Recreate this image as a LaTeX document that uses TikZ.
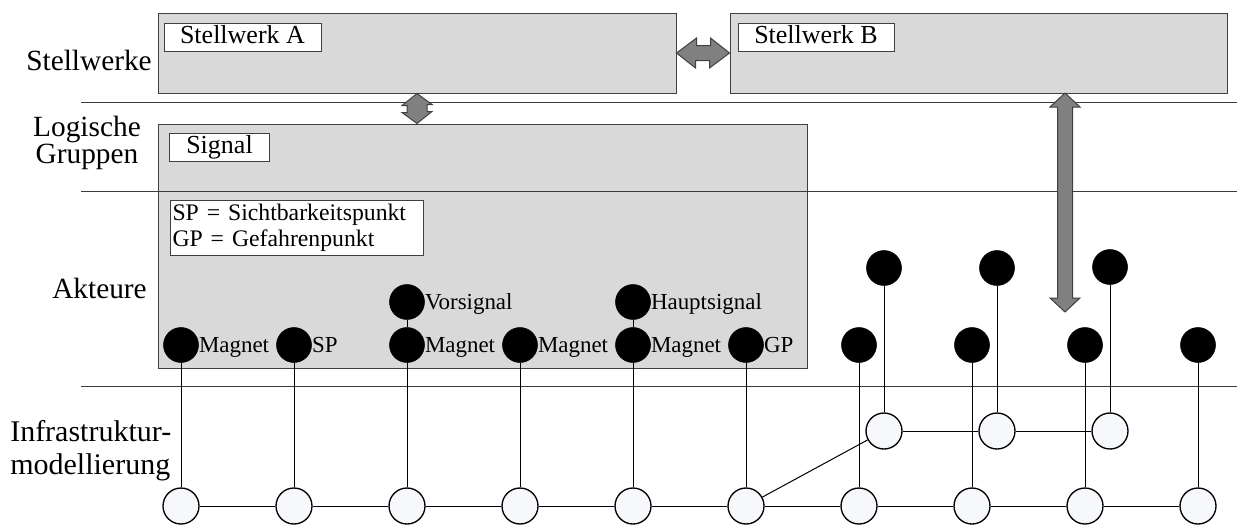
\documentclass[tikz,border=0pt]{standalone}
\usepackage{fontspec}
\setmainfont{Liberation Serif}
\usetikzlibrary{calc}
\definecolor{boxc}{HTML}{D9D9D9}
\definecolor{edgec}{HTML}{404040}
\definecolor{arrc}{HTML}{808080}
\definecolor{sepc}{HTML}{3A3A3A}
\definecolor{infc}{HTML}{F7F8FC}
\newdimen\pxd \pxd=0.75pt
\newcommand\layfont{\fontsize{22}{20}\selectfont}
\newcommand\tagfont{\fontsize{19.5}{22}\selectfont}
\newcommand\smallfont{\fontsize{17.2}{18.75}\selectfont}
\newcommand\legfont{\fontsize{17.8}{19.5}\selectfont}
\begin{document}
\begin{tikzpicture}[x=0.75pt,y=-0.75pt,
  box/.style={draw=edgec, fill=boxc, line width=0.75pt, inner sep=0pt},
  tag/.style={draw=edgec, fill=white, line width=0.75pt, inner sep=0pt, font=\tagfont, text height=14pt, text depth=3.7pt},
  legend/.style={draw=edgec, fill=white, line width=0.75pt, inner xsep=2\pxd, inner ysep=0pt, font=\legfont, align=left},
  lay/.style={inner sep=0pt, font=\layfont},
  act/.style={circle, draw=black, fill=black, minimum size=35\pxd, inner sep=0pt},
  infra/.style={circle, draw=black, fill=infc, line width=1pt, minimum size=36\pxd, inner sep=0pt},
  albl/.style={anchor=west, font=\smallfont, inner sep=0pt, text height=11.4pt, text depth=0pt},
  sep/.style={draw=sepc, line width=0.75pt},
  wire/.style={draw=black, line width=0.75pt},
  fatarrow/.style={draw=edgec, fill=arrc, line width=0.75pt, line join=miter}
]
\useasboundingbox (0,0) rectangle (1245,525);

% layer boxes
\node[box, minimum width=518\pxd, minimum height=80\pxd] (SA) at (417,53) {};
\node[box, minimum width=497\pxd, minimum height=80\pxd] (SB) at (978.5,53) {};
\node[box, minimum width=649\pxd, minimum height=244\pxd] (SG) at (482.5,246) {};

% box tags
\node[tag, minimum width=157\pxd, minimum height=28\pxd] (tA) at (242.5,37) {Stellwerk A};
\node[tag, minimum width=156\pxd, minimum height=28\pxd] (tB) at (816,37) {Stellwerk B};
\node[tag, minimum width=100\pxd, minimum height=28\pxd] (tS) at (219.5,147) {Signal};
\node[legend, anchor=north west, text width=249\pxd, minimum height=55\pxd] (lg) at (170,200) {SP = Sichtbarkeitspunkt\\GP = Gefahrenpunkt};

% layer labels
\node[lay, anchor=base east] (L1) at (152,70) {Stellwerke};
\node[lay, anchor=base, align=center] (L2) at (87,163) {Logische\\Gruppen};
\node[lay, anchor=base east] (L3) at (147,298) {Akteure};
\node[lay, anchor=base west, align=left, font=\fontsize{22.5}{24.75}\selectfont] (L4) at (10,474) {Infrastruktur-\\modellierung};

% separators
\coordinate (s1a) at (81,102); \coordinate (s1b) at (1237,102);
\coordinate (s2a) at (81,191); \coordinate (s2b) at (1237,191);
\coordinate (s3a) at (81,386); \coordinate (s3b) at (1237,386);
\draw[sep] (s1a) -- (s1b);
\draw[sep] (s2a) -- (s2b);
\draw[sep] (s3a) -- (s3b);

% fat arrows
\filldraw[fatarrow] (SA.east) -- ++(20,-15) -- ++(0,7.5) -- ++(14,0) -- ++(0,-7.5) -- (SB.west)
  -- ++(-20,15) -- ++(0,-7.5) -- ++(-14,0) -- ++(0,7.5) -- cycle;
\coordinate (aS) at (SA.south |- SG.north);
\filldraw[fatarrow] (SA.south) -- ++(-15,12) -- ++(5,0) -- ++(0,7) -- ++(-5,0) -- (aS)
  -- ++(15,-12) -- ++(-5,0) -- ++(0,-7) -- ++(5,0) -- cycle;
\coordinate (bTop) at (1065,93);
\coordinate (bEnd) at (1065,312);
\filldraw[fatarrow] (bTop) -- ++(-15,14) -- ++(7.5,0) -- ++(0,191) -- ++(-7.5,0) -- (bEnd)
  -- ++(15,-14) -- ++(-7.5,0) -- ++(0,-191) -- ++(7.5,0) -- cycle;

% actors and infrastructure nodes
\foreach \i in {0,...,9} {
  \node[act] (b\i) at ({181+113*\i},345) {};
  \node[infra] (w\i) at ({181+113*\i},506) {};
}
\node[act] (v) at (407,302) {};
\node[act] (h) at (633,302) {};
\node[act] (t0) at (884,268) {};
\node[act] (t1) at (997,268) {};
\node[act] (t2) at (1110,267) {};
\node[infra] (u0) at (884,431) {};
\node[infra] (u1) at (997,431) {};
\node[infra] (u2) at (1110,431) {};

% actor labels
\node[albl] (lb0) at (b0.east) {Magnet};
\node[albl] (lb1) at (b1.east) {SP};
\node[albl] (lb2) at (b2.east) {Magnet};
\node[albl] (lb3) at (b3.east) {Magnet};
\node[albl] (lb4) at (b4.east) {Magnet};
\node[albl] (lb5) at (b5.east) {GP};
\node[albl] (lv) at (v.east) {Vorsignal};
\node[albl] (lh) at (h.east) {Hauptsignal};

% wires
\foreach \i in {0,...,9} { \draw[wire] (b\i) -- (w\i); }
\foreach \i [count=\j] in {0,...,8} { \draw[wire] (w\i) -- (w\j); }
\draw[wire] (v) -- (b2);
\draw[wire] (h) -- (b4);
\draw[wire] (t0) -- (u0);
\draw[wire] (t1) -- (u1);
\draw[wire] (t2) -- (u2);
\draw[wire] (u0) -- (u1);
\draw[wire] (u1) -- (u2);
\draw[wire] (w5) -- (u0);
\end{tikzpicture}
\end{document}
